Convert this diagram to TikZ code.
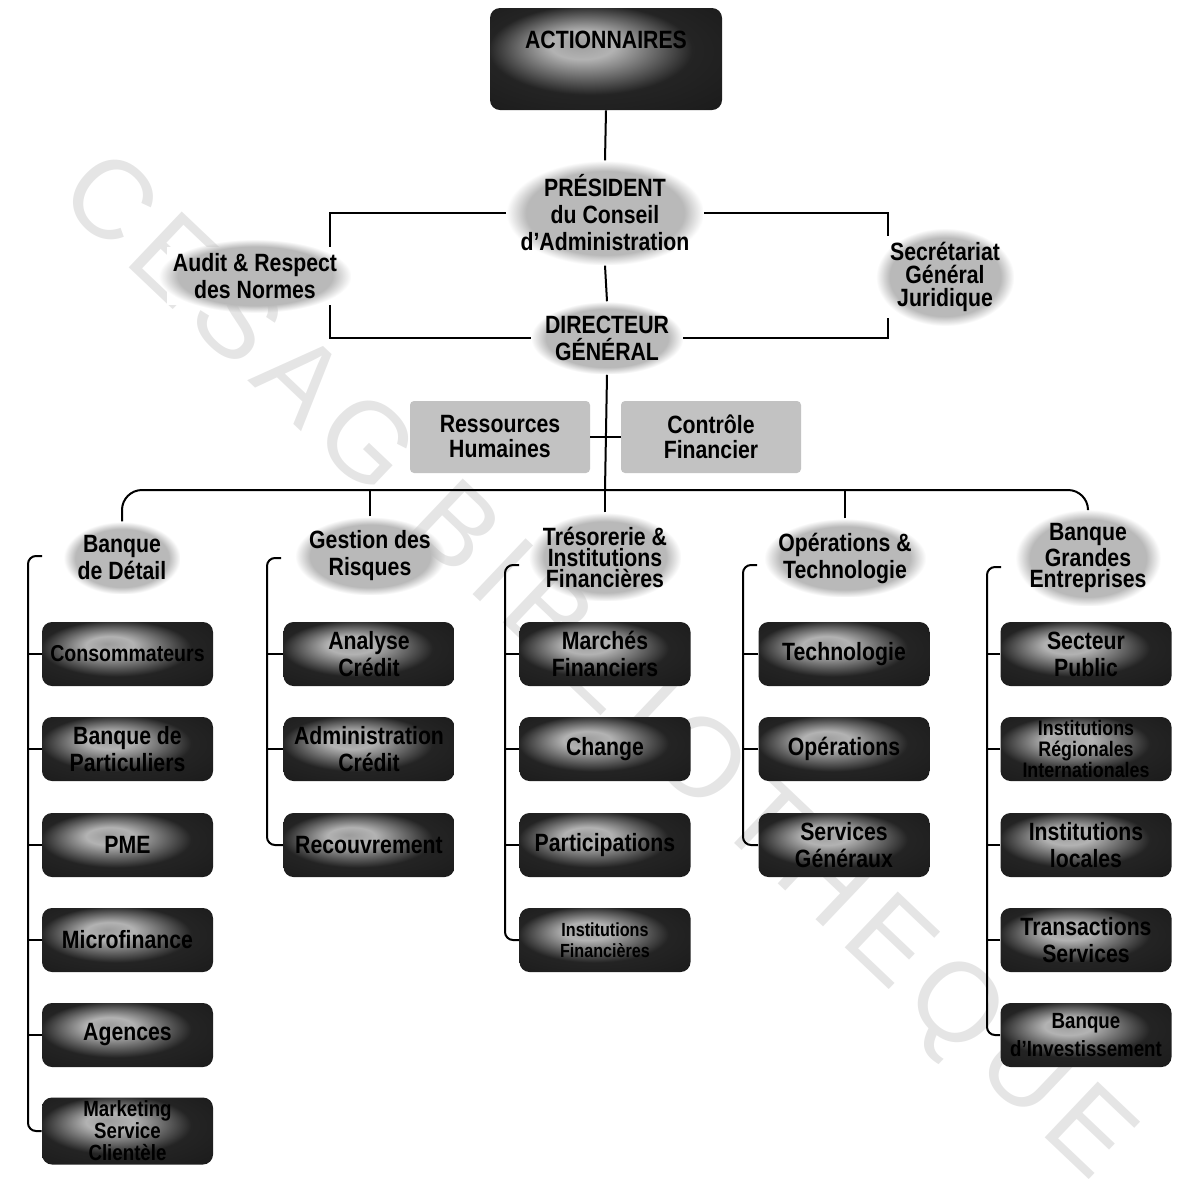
\documentclass[tikz,border=0pt]{standalone}
\usepackage{fontspec}
\setmainfont{Liberation Sans}[FakeStretch=0.85]
\newfontfamily\wmfont{Liberation Sans}[LetterSpace=10]
\usetikzlibrary{fadings}
\pgfdeclareradialshading{boxglow}{\pgfpoint{-6bp}{8bp}}{color(0bp)=(gray!78);color(7bp)=(gray!60);color(22bp)=(black!86);color(50bp)=(black!92)}
\tikzset{
  conn/.style={line width=1pt, black},
  darkbox/.style={rounded corners=5pt, shading=boxglow, minimum width=85.5pt, minimum height=32pt,
     align=center, inner sep=1pt, font=\bfseries\fontsize{12.5}{13.5}\selectfont},
  hdr/.style={fill=gray!55, path fading=circle with fuzzy edge 20 percent, align=center, inner sep=7pt,
     font=\bfseries\fontsize{12.5}{13.5}\selectfont},
  hdrt/.style={hdr, font=\bfseries\fontsize{12.5}{10.5}\selectfont},
  gbox/.style={fill=gray!48, rounded corners=2pt, minimum width=90pt, minimum height=36pt, align=center,
     inner sep=1pt, font=\bfseries\fontsize{12.5}{12.5}\selectfont}
}
\begin{document}
\begin{tikzpicture}[x=0.5pt,y=-0.5pt]
\useasboundingbox (0,0) rectangle (1189,1180);
% watermark
\node[text=gray!20, rotate=-43.5, font=\wmfont\fontsize{56}{56}\selectfont] (wm) at (594,670) {CESAG BIBLIOTHEQUE};

% top
\node[darkbox, minimum width=116pt, minimum height=51pt] (act) at (606,59) {ACTIONNAIRES\\[2pt]\strut};
\node[hdr] (pres) at (605,213) {PRÉSIDENT\\du Conseil\\d'Administration};
\node[hdr] (dg) at (607,338) {DIRECTEUR\\GÉNÉRAL};

\coordinate (lbt) at (330,213);
\coordinate (rbt) at (888,213);
\coordinate (bus) at (605,490);

\draw[conn] (act.south) -- (pres.north);
\draw[conn] (pres.south) -- (dg.north);
\draw[conn] (pres.west) -- (lbt) |- (dg.west);
\draw[conn] (pres.east) -- (rbt) |- (dg.east);

\node[hdr, fill=white, path fading=none, inner sep=3pt] at (255,276) {\phantom{Audit \& Respect}\\\phantom{des Normes}};
\node[hdr] (audit) at (255,276) {Audit \& Respect\\des Normes};
\node[hdr, fill=white, path fading=none, inner sep=3pt, font=\bfseries\fontsize{12.5}{11.5}\selectfont] at (945,277) {\phantom{Secrétariat}\\\phantom{Général}\\\phantom{Juridique}};
\node[hdr, font=\bfseries\fontsize{12.5}{11.5}\selectfont] (sec) at (945,277) {Secrétariat\\Général\\Juridique};

% staff
\node[gbox] (rh) at (500,437) {Ressources\\Humaines};
\node[gbox] (cf) at (711,437) {Contrôle\\Financier};
\draw[conn] (dg.south) -- (bus);
\draw[conn] (rh.east) -- (cf.west);

% divisions
\node[hdr] (bd) at (122,558) {Banque\\de Détail};
\node[hdr] (gr) at (370,556) {Gestion des\\Risques};
\node[hdrt] (tr) at (605,557) {Trésorerie \&\\Institutions\\Financières};
\node[hdr] (op) at (845,558) {Opérations \&\\Technologie};
\node[hdrt] (bge) at (1088,558) {Banque\\Grandes\\Entreprises};

\draw[conn, rounded corners=10pt] (bd.north) |- (bus) -| (bge.north);
\draw[conn] (gr.north) -- (gr.north |- bus);
\draw[conn] (tr.north) -- (tr.north |- bus);
\draw[conn] (op.north) -- (op.north |- bus);

% column 1
\node[darkbox, font=\bfseries\fontsize{11.5}{13}\selectfont] (b11) at (127.5,654) {Consommateurs};
\node[darkbox] (b12) at (127.5,749) {Banque de\\Particuliers};
\node[darkbox] (b13) at (127.5,845) {PME};
\node[darkbox] (b14) at (127.5,940) {Microfinance};
\node[darkbox] (b15) at (127.5,1035) {Agences};
\node[darkbox, minimum height=33.5pt, font=\bfseries\fontsize{11}{11}\selectfont] (b16) at (127.5,1131) {Marketing\\Service\\Clientèle};
% column 2
\node[darkbox] (b21) at (369,654) {Analyse\\Crédit};
\node[darkbox] (b22) at (369,749) {Administration\\Crédit};
\node[darkbox] (b23) at (369,845) {Recouvrement};
% column 3
\node[darkbox] (b31) at (605,654) {Marchés\\Financiers};
\node[darkbox] (b32) at (605,749) {Change};
\node[darkbox] (b33) at (605,845) {Participations};
\node[darkbox, font=\bfseries\fontsize{9.5}{10.5}\selectfont] (b34) at (605,940) {Institutions\\Financières};
% column 4
\node[darkbox] (b41) at (844,654) {Technologie};
\node[darkbox] (b42) at (844,749) {Opérations};
\node[darkbox] (b43) at (844,845) {Services\\Généraux};
% column 5
\node[darkbox] (b51) at (1086,654) {Secteur\\Public};
\node[darkbox, font=\bfseries\fontsize{10.5}{10.5}\selectfont] (b52) at (1086,749) {Institutions\\Régionales\\Internationales};
\node[darkbox] (b53) at (1086,845) {Institutions\\locales};
\node[darkbox] (b54) at (1086,940) {Transactions\\Services};
\node[darkbox, font=\bfseries\fontsize{11}{14}\selectfont] (b55) at (1086,1035) {Banque\\d'Investissement};

% column spines
\coordinate (h1a) at (42,556);  \coordinate (h1) at (28,556);
\coordinate (h2a) at (281,558); \coordinate (h2) at (267,558);
\coordinate (h3a) at (519,565); \coordinate (h3) at (505,565);
\coordinate (h4a) at (757,565); \coordinate (h4) at (743,565);
\coordinate (h5a) at (1001,567); \coordinate (h5) at (987,567);

\draw[conn, rounded corners=4pt] (h1a) -- (h1) |- (b16.west);
\foreach \b in {b11,b12,b13,b14,b15} \draw[conn] (\b.west) -- (\b.west -| h1);
\draw[conn, rounded corners=4pt] (h2a) -- (h2) |- (b23.west);
\foreach \b in {b21,b22} \draw[conn] (\b.west) -- (\b.west -| h2);
\draw[conn, rounded corners=4pt] (h3a) -- (h3) |- (b34.west);
\foreach \b in {b31,b32,b33} \draw[conn] (\b.west) -- (\b.west -| h3);
\draw[conn, rounded corners=4pt] (h4a) -- (h4) |- (b43.west);
\foreach \b in {b41,b42} \draw[conn] (\b.west) -- (\b.west -| h4);
\draw[conn, rounded corners=4pt] (h5a) -- (h5) |- (b55.west);
\foreach \b in {b51,b52,b53,b54} \draw[conn] (\b.west) -- (\b.west -| h5);
\end{tikzpicture}
\end{document}
